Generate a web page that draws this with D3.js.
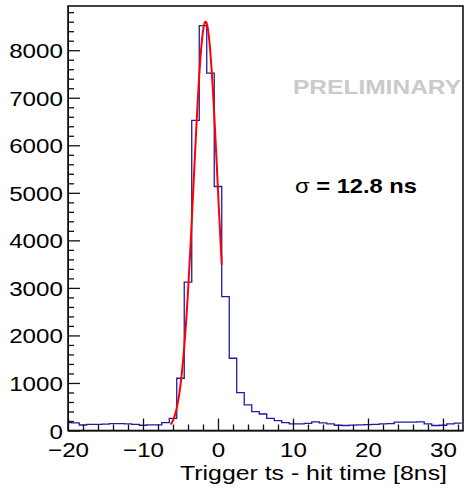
<!DOCTYPE html>
<html>
<head>
<meta charset="utf-8">
<script src="https://cdn.jsdelivr.net/npm/d3@7"></script>
<style>
  body { margin: 0; background: #fff; }
  svg { display: block; font-family: "Liberation Sans", Arial, Helvetica, sans-serif; }
</style>
</head>
<body>
<div id="chart"></div>
<script>
// bin centres (integer, width 1) and counts
const binCenters = d3.range(-20, 33);
const binCounts = [
  165, 160, 116, 130, 130, 135, 143, 143, 140, 130,   // -20 .. -11
  110, 120, 120, 165, 257, 1099, 3120, 6522, 8516, 7520, // -10 .. -1
  5133, 2817, 1520, 796, 537, 396, 347, 257, 207, 165, // 0 .. 9
  140, 140, 150, 180, 160, 140, 110, 105, 115, 120,    // 10 .. 19
  125, 130, 140, 145, 175, 175, 175, 180, 140, 105,    // 20 .. 29
  110, 140, 155                                         // 30 .. 32
];

// gaussian fit parameters
const fitAmp = 8600;
const fitMean = -1.65;
const fitSigma = 1.6;
const fitRange = [-6.3, 0.5];

const xDomain = [-20, 32.67];
const yDomain = [0, 8930];
const xMajorTicks = [-20, -10, 0, 10, 20, 30];
const yMajorTicks = [0, 1000, 2000, 3000, 4000, 5000, 6000, 7000, 8000];

const W = 464, H = 488;
const frame = { left: 68, right: 463, top: 6, bottom: 430.5 };
const stretch = 1.15; // text in the picture is a bit wider than tall

const svg = d3.select("#chart").append("svg")
  .attr("width", W).attr("height", H);

const x = d3.scaleLinear().domain(xDomain).range([frame.left, frame.right]);
const y = d3.scaleLinear().domain(yDomain).range([frame.bottom, frame.top]);

svg.append("clipPath").attr("id", "plotclip")
  .append("rect")
  .attr("x", frame.left).attr("y", frame.top)
  .attr("width", frame.right - frame.left)
  .attr("height", frame.bottom - frame.top);

const plot = svg.append("g").attr("clip-path", "url(#plotclip)");

// histogram outline as steps
const bins = binCenters.map((c, i) => ({ lo: c - 0.5, hi: c + 0.5, v: binCounts[i] }));
let d = "";
bins.forEach((b, i) => {
  d += (i === 0 ? "M" : "L") + x(b.lo) + "," + y(b.v) + "L" + x(b.hi) + "," + y(b.v);
});
plot.append("path")
  .attr("d", d)
  .attr("fill", "none")
  .attr("stroke", "#1c1ca8")
  .attr("stroke-width", 1.3);

// fit curve
const fitPts = d3.range(fitRange[0], fitRange[1] + 0.001, 0.05)
  .map(t => [t, fitAmp * Math.exp(-0.5 * Math.pow((t - fitMean) / fitSigma, 2))]);
plot.append("path")
  .datum(fitPts)
  .attr("d", d3.line().x(p => x(p[0])).y(p => y(p[1])).curve(d3.curveMonotoneX))
  .attr("fill", "none")
  .attr("stroke", "#ff0000")
  .attr("stroke-width", 2);

// axes, ticks pointing into the frame
const xMinor = d3.range(-20, 33, 2).filter(v => xMajorTicks.indexOf(v) < 0);
svg.append("g")
  .attr("transform", `translate(0,${frame.bottom})`)
  .call(d3.axisBottom(x).tickValues(xMinor).tickSize(-6).tickFormat(""))
  .call(g => g.select(".domain").remove());

const xAxisG = svg.append("g")
  .attr("transform", `translate(0,${frame.bottom})`)
  .call(d3.axisBottom(x).tickValues(xMajorTicks).tickSize(-12).tickSizeOuter(0));
xAxisG.selectAll(".tick text")
  .attr("y", 26.5).attr("dy", 0)
  .attr("transform", `scale(${stretch},1)`)
  .attr("font-size", 21)
  .attr("font-family", "Liberation Sans, Arial, sans-serif")
  .attr("fill", "#000");

const yMinor = d3.range(0, 8930, 200).filter(v => v % 1000 !== 0);
svg.append("g")
  .attr("transform", `translate(${frame.left},0)`)
  .call(d3.axisLeft(y).tickValues(yMinor).tickSize(-6).tickFormat(""))
  .call(g => g.select(".domain").remove());

const yAxisG = svg.append("g")
  .attr("transform", `translate(${frame.left},0)`)
  .call(d3.axisLeft(y).tickValues(yMajorTicks).tickSize(-12).tickSizeOuter(0).tickFormat(d3.format("d")));
yAxisG.selectAll(".tick text")
  .attr("x", -4.5).attr("dy", "0.36em")
  .attr("transform", `scale(${stretch},1)`)
  .attr("font-size", 21)
  .attr("font-family", "Liberation Sans, Arial, sans-serif")
  .attr("fill", "#000");

svg.selectAll(".tick line").attr("stroke", "#111").attr("stroke-width", 1.3);

// frame
svg.append("rect")
  .attr("x", frame.left).attr("y", frame.top)
  .attr("width", frame.right - frame.left)
  .attr("height", frame.bottom - frame.top)
  .attr("fill", "none")
  .attr("stroke", "#111")
  .attr("stroke-width", 1.6);

// axis title
svg.append("text")
  .attr("x", 180).attr("y", 480)
  .attr("font-size", 20.5)
  .attr("textLength", 267)
  .attr("lengthAdjust", "spacingAndGlyphs")
  .text("Trigger ts - hit time [8ns]");

svg.append("text")
  .attr("x", 293).attr("y", 94)
  .attr("font-size", 20.5)
  .attr("font-weight", "bold")
  .attr("fill", "#cacaca")
  .attr("textLength", 168)
  .attr("lengthAdjust", "spacingAndGlyphs")
  .text("PRELIMINARY");

const sig = svg.append("text")
  .attr("x", 295).attr("y", 192.5)
  .attr("font-size", 20.5)
  .attr("textLength", 122)
  .attr("lengthAdjust", "spacingAndGlyphs");
sig.append("tspan").text("σ");
sig.append("tspan").attr("font-weight", "bold").text(" = 12.8 ns");
</script>
</body>
</html>
